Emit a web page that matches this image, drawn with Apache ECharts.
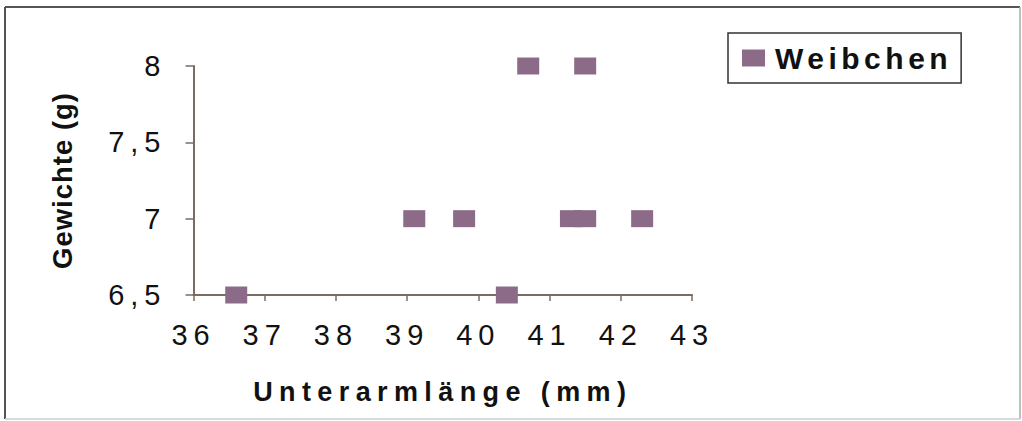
<!DOCTYPE html>
<html>
<head>
<meta charset="utf-8">
<script src="https://cdn.jsdelivr.net/npm/echarts@6/dist/echarts.min.js"></script>
<style>
  html, body { margin: 0; padding: 0; background: #fff; }
  #chart { width: 1022px; height: 421px; }
  /* letter spacing of the original lettering */
  #chart text[style*="29px"] { letter-spacing: 6px; }
  #chart text[style*="30px"] { letter-spacing: 4.5px; }
  #chart text[style*="27px"] { letter-spacing: 6.4px; }
  #chart text[style*="27.5px"] { letter-spacing: 1px; }
</style>
</head>
<body>
<div id="chart"></div>
<script>
const seriesName = 'Weibchen';
const xValues = [36.6, 39.1, 39.8, 40.4, 40.7, 41.5, 41.3, 41.5, 42.3];
const yValues = [6.5, 7, 7, 6.5, 8, 8, 7, 7, 7];
const xTicks = [36, 37, 38, 39, 40, 41, 42, 43];
const yTicks = [6.5, 7, 7.5, 8];
const yTickLabels = ['6,5', '7', '7,5', '8'];
const xAxisTitle = 'Unterarmlänge (mm)';
const yAxisTitle = 'Gewichte (g)';

const FONT = "'Liberation Sans', Arial, sans-serif";
const AXIS_COLOR = '#7b6b60';
const MARK_COLOR = '#8c6b89';

const chart = echarts.init(document.getElementById('chart'), null, { renderer: 'svg' });
chart.setOption({
  animation: false,
  backgroundColor: '#ffffff',
  grid: { left: 193.5, right: 330, top: 66, bottom: 126 },
  xAxis: {
    type: 'value',
    min: xTicks[0],
    max: xTicks[xTicks.length - 1],
    interval: 1,
    name: xAxisTitle,
    nameLocation: 'middle',
    nameGap: 83,
    nameTextStyle: { fontFamily: FONT, fontSize: 27, fontWeight: 'bold', color: '#111' },
    axisLine: { lineStyle: { color: AXIS_COLOR, width: 2 } },
    axisTick: { show: true, length: 6, lineStyle: { color: AXIS_COLOR, width: 1.5 } },
    axisLabel: { fontFamily: FONT, fontSize: 29, color: '#111', margin: 25 },
    splitLine: { show: false }
  },
  yAxis: {
    type: 'value',
    min: yTicks[0],
    max: yTicks[yTicks.length - 1],
    interval: 0.5,
    name: yAxisTitle,
    nameLocation: 'middle',
    nameRotate: 90,
    nameGap: 117,
    nameTextStyle: { fontFamily: FONT, fontSize: 27.5, fontWeight: 'bold', color: '#111' },
    axisLine: { show: true, lineStyle: { color: AXIS_COLOR, width: 2 } },
    axisTick: { show: true, length: 8, lineStyle: { color: AXIS_COLOR, width: 1.5 } },
    axisLabel: {
      fontFamily: FONT, fontSize: 29, color: '#111', margin: 27,
      formatter: function (v) {
        const i = yTicks.findIndex(t => Math.abs(t - v) < 1e-9);
        return i >= 0 ? yTickLabels[i] : String(v);
      }
    },
    splitLine: { show: false }
  },
  legend: {
    left: 728,
    top: 33,
    padding: [10, 45, 10, 14],
    orient: 'vertical',
    itemWidth: 23,
    itemHeight: 17,
    icon: 'rect',
    borderColor: '#333',
    borderWidth: 1.5,
    textStyle: { fontFamily: FONT, fontSize: 30, fontWeight: 'bold', color: '#111', lineHeight: 30, padding: [0, 0, 0, 5] },
    data: [seriesName]
  },
  graphic: [
    { type: 'line', shape: { x1: 5, y1: 7, x2: 1020, y2: 7 }, style: { stroke: '#555', lineWidth: 2 }, silent: true },
    { type: 'line', shape: { x1: 5, y1: 7, x2: 5, y2: 419 }, style: { stroke: '#555', lineWidth: 2 }, silent: true },
    { type: 'line', shape: { x1: 1020, y1: 7, x2: 1020, y2: 419 }, style: { stroke: '#aaa', lineWidth: 1.5 }, silent: true },
    { type: 'line', shape: { x1: 5, y1: 419, x2: 1020, y2: 419 }, style: { stroke: '#ccc', lineWidth: 1.5 }, silent: true }
  ],
  series: [{
    name: seriesName,
    type: 'scatter',
    symbol: 'rect',
    symbolSize: [22, 17],
    itemStyle: { color: MARK_COLOR, opacity: 1, borderRadius: 2 },
    data: xValues.map((x, i) => [x, yValues[i]])
  }]
});
</script>
</body>
</html>
